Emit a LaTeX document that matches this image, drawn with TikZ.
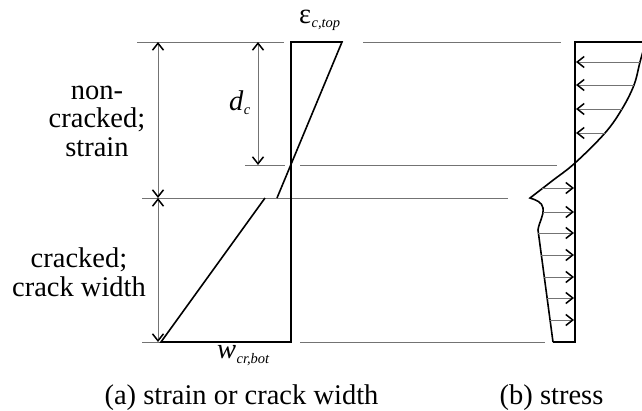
\documentclass[tikz,border=0pt]{standalone}
\usepackage{fontspec}
\setmainfont{Liberation Serif}
\usetikzlibrary{arrows.meta}
\begin{document}
\begin{tikzpicture}[x=1pt,y=-1pt,
  guide/.style={draw=black!55,line width=1pt},
  outline/.style={draw=black,line width=1.6pt,line join=miter},
  barb/.tip={Straight Barb[length=7pt,width=11pt,line width=1.5pt,black]},
  dimarrow/.style={draw=black!55,line width=1pt,barb-barb},
  forcearrow/.style={draw=black!55,line width=1pt,-barb},
  lbl/.style={font=\fontsize{28.5}{28.5}\selectfont,inner sep=0pt},
  sub/.style={font=\fontsize{14.5}{14.5}\selectfont\itshape,inner sep=0pt},
]
\clip (0,0) rectangle (642,410);
% key coordinates
\coordinate (T0) at (137,42);  \coordinate (T1) at (284,42);
\coordinate (T2) at (363,42);  \coordinate (T3) at (561,42);
\coordinate (D0) at (245,165); \coordinate (D1) at (285,165);
\coordinate (D2) at (300,165); \coordinate (D3) at (557,165);
\coordinate (C0) at (142,198); \coordinate (C1) at (508,198);
\coordinate (B0) at (142,342); \coordinate (B1) at (161,342);
\coordinate (B2) at (300,342); \coordinate (B3) at (545,342);
% guide lines
\draw[guide] (T0) -- (T1);
\draw[guide] (T2) -- (T3);
\draw[guide] (D0) -- (D1);
\draw[guide] (D2) -- (D3);
\draw[guide] (C0) -- (C1);
\draw[guide] (B0) -- (B1);
\draw[guide] (B2) -- (B3);
% dimension arrows
\coordinate (ha) at (158,42); \coordinate (hb) at (158,198); \coordinate (hc) at (158,342);
\draw[dimarrow] (ha) -- (hb);
\draw[dimarrow] (hb) -- (hc);
\coordinate (da) at (258,42); \coordinate (db) at (258,165);
\draw[dimarrow] (da) -- (db);
% strain / crack width diagram
\coordinate (s1) at (277,198); \coordinate (s2) at (342,42);
\coordinate (s3) at (291,42);  \coordinate (s4) at (291,342);
\coordinate (s5) at (161,342); \coordinate (s6) at (265,198);
\draw[outline] (s1) -- (s2) -- (s3) -- (s4) -- (s5) -- (s6);
% stress diagram
\coordinate (r0) at (575,42); \coordinate (r1) at (575,342);
\coordinate (r2) at (553,342); \coordinate (r3) at (646,42);
\draw[outline] (r3) -- (r0) -- (r1) -- (r2);
\draw[outline] plot[smooth,tension=0.6] coordinates {(644,48) (640,62) (634,85) (622,109) (605,133) (575,163) (552,181) (530,198)}
  .. controls (536,200) and (542,202) .. (543,208)
  .. controls (544,216) and (539,222) .. (538,230)
  -- (r2);
% compression arrows
\foreach \yy/\xx [count=\i] in {62/640,85/634,109/622,133/605}{
  \coordinate (ca\i) at (\xx,\yy); \coordinate (cb\i) at (576,\yy);
  \draw[forcearrow] (ca\i) -- (cb\i);
}
% tension arrows
\foreach \yy/\xx [count=\i] in {188/542,212/543,233/538,255/541,277/544,298/547,320/550}{
  \coordinate (ta\i) at (\xx,\yy); \coordinate (tb\i) at (574,\yy);
  \draw[forcearrow] (ta\i) -- (tb\i);
}
% labels
\node[lbl,align=center] (noncr) at (97,121) {non-\\cracked;\\strain};
\node[lbl,align=center] (cr) at (79,272) {cracked;\\crack width};
\node[lbl,anchor=base west] (eps) at (299,23) {ε};
\node[sub,anchor=base west] (epss) at (eps.base east) [yshift=-4pt] {c,top};
\node[lbl,anchor=base west] (dc) at (229,110) {\itshape d};
\node[sub,anchor=base west] (dcs) at (dc.base east) [yshift=-4pt] {c};
\node[lbl,anchor=base west] (w) at (217,358) {\itshape w};
\node[sub,anchor=base west] (ws) at (w.base east) [yshift=-5pt] {cr,bot};
\node[lbl,anchor=base] (capa) at (241.5,404) {(a) strain or crack width};
\node[lbl,anchor=base] (capb) at (551.5,404) {(b) stress};
\end{tikzpicture}
\end{document}
